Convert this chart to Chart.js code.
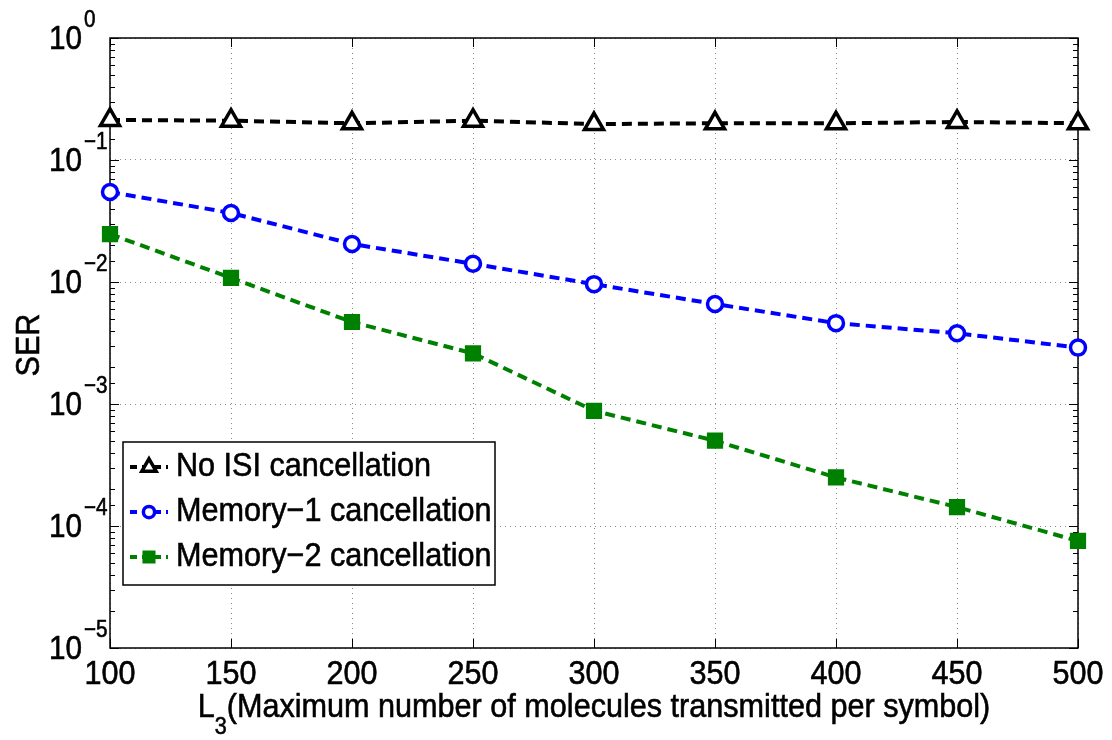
<!DOCTYPE html>
<html>
<head>
<meta charset="utf-8">
<script src="https://cdn.jsdelivr.net/npm/chart.js@4/dist/chart.umd.min.js"></script>
<style>
  body { margin: 0; background: #fff; }
  #wrap { width: 1112px; height: 740px; }
</style>
</head>
<body>
<div id="wrap"><canvas id="serChart" width="1112" height="740"></canvas></div>
<script>
// L3 values on the x axis
const L3 = [100, 150, 200, 250, 300, 350, 400, 450, 500];
// SER
const noIsi = [0.213, 0.21, 0.20, 0.21, 0.197, 0.20, 0.20, 0.205, 0.20];
const memory1 = [0.0547, 0.0368, 0.0205, 0.0141, 0.0096, 0.0066, 0.0046, 0.0038, 0.0029];
const memory2 = [0.0247, 0.0108, 0.0047, 0.0026, 0.00088, 0.00050, 0.00025, 0.000143, 0.0000754];
const seriesNames = ["No ISI cancellation", "Memory\u22121 cancellation", "Memory\u22122 cancellation"];
const xTickLabels = ["100", "150", "200", "250", "300", "350", "400", "450", "500"];
const yTickExps = [0, -1, -2, -3, -4, -5];

const FONT = "'Liberation Sans', Arial, sans-serif";
const SX = 0.9; // the original text is horizontally narrow

function pares(vals) {
  return L3.map((x, i) => ({ x: x, y: vals[i] }));
}

function isMajor(v) {
  const l = Math.log10(v);
  return Math.abs(l - Math.round(l)) < 1e-6;
}

// draws text squeezed horizontally, returns its drawn width
function texto(ctx, str, x, y, size, align) {
  ctx.save();
  ctx.font = size + "px " + FONT;
  const w = ctx.measureText(str).width * SX;
  let x0 = x;
  if (align === "center") x0 = x - w / 2;
  if (align === "right") x0 = x - w;
  ctx.translate(x0, y);
  ctx.scale(SX, 1);
  ctx.textAlign = "left";
  ctx.textBaseline = "middle";
  ctx.fillStyle = "#000";
  ctx.strokeStyle = "#000";
  ctx.lineWidth = 0.6;
  ctx.fillText(str, 0, 0);
  ctx.strokeText(str, 0, 0);
  ctx.restore();
  return w;
}

const moldura = {
  id: "moldura",
  beforeDatasetsDraw(chart) {
    const ctx = chart.ctx;
    const a = chart.chartArea;
    const xs = chart.scales.x, ys = chart.scales.y;
    ctx.save();
    ctx.strokeStyle = "#000";
    ctx.lineWidth = 1.5;
    ctx.strokeRect(a.left, a.top, a.right - a.left, a.bottom - a.top);
    ctx.lineWidth = 1;
    ctx.beginPath();
    ys.ticks.forEach(t => {
      const y = Math.round(ys.getPixelForValue(t.value)) + 0.5;
      const len = isMajor(t.value) ? 9 : 5;
      ctx.moveTo(a.left, y); ctx.lineTo(a.left + len, y);
      ctx.moveTo(a.right, y); ctx.lineTo(a.right - len, y);
    });
    L3.forEach(v => {
      const x = Math.round(xs.getPixelForValue(v)) + 0.5;
      ctx.moveTo(x, a.bottom); ctx.lineTo(x, a.bottom - 9);
      ctx.moveTo(x, a.top); ctx.lineTo(x, a.top + 9);
    });
    ctx.stroke();
    ctx.restore();
  },
  afterDraw(chart) {
    const ctx = chart.ctx;
    const a = chart.chartArea;
    const xs = chart.scales.x, ys = chart.scales.y;

    // x tick labels
    L3.forEach((v, i) => {
      texto(ctx, xTickLabels[i], xs.getPixelForValue(v), a.bottom + 27, 34, "center");
    });
    // y tick labels 10^k
    yTickExps.forEach(e => {
      const y = ys.getPixelForValue(Math.pow(10, e));
      texto(ctx, "10", 82, y + 2, 33, "right");
      const sup = e < 0 ? "\u2212" + Math.abs(e) : String(e);
      texto(ctx, sup, 84, y - 17, 23, "left");
    });

    // axis titles
    ctx.save();
    ctx.translate(30, 345);
    ctx.rotate(-Math.PI / 2);
    texto(ctx, "SER", 0, 0, 34, "center");
    ctx.restore();

    ctx.save();
    ctx.font = "34px " + FONT;
    const resto = "(Maximum number of molecules transmitted per symbol)";
    const wL = ctx.measureText("L").width * SX;
    const wR = ctx.measureText(resto).width * SX;
    ctx.font = "24px " + FONT;
    const w3 = ctx.measureText("3").width * SX;
    ctx.restore();
    const cx = (a.left + a.right) / 2;
    let x = cx - (wL + w3 + wR) / 2;
    x += texto(ctx, "L", x, 708, 34, "left");
    x += texto(ctx, "3", x, 727, 24, "left");
    texto(ctx, resto, x, 708, 34, "left");

    // legend box
    const bx = 123, by = 442, bw = 372, bh = 143;
    ctx.save();
    ctx.fillStyle = "#fff";
    ctx.fillRect(bx, by, bw, bh);
    ctx.strokeStyle = "#000";
    ctx.lineWidth = 1.5;
    ctx.strokeRect(bx, by, bw, bh);
    ctx.restore();
    const rows = [467, 512, 557];
    chart.data.datasets.forEach((ds, i) => {
      const y = rows[i];
      ctx.save();
      ctx.strokeStyle = ds.borderColor;
      ctx.lineWidth = ds.borderWidth;
      ctx.setLineDash([7, 5]);
      ctx.beginPath();
      ctx.moveTo(130, y); ctx.lineTo(168, y);
      ctx.stroke();
      ctx.setLineDash([]);
      ctx.fillStyle = ds.pointBackgroundColor;
      ctx.strokeStyle = ds.borderColor;
      ctx.lineWidth = ds.pointBorderWidth;
      Chart.helpers.drawPoint(ctx, {
        pointStyle: ds.pointStyle, radius: ds.pointRadius * 0.75,
        borderWidth: ds.pointBorderWidth, rotation: 0
      }, 149, y);
      ctx.restore();
      texto(ctx, ds.label, 176, y, 34, "left");
    });
  }
};

function serie(label, vals, cor, estilo, raio, fundo) {
  return {
    label: label,
    data: pares(vals),
    borderColor: cor,
    borderWidth: 4,
    borderDash: [10, 6],
    pointStyle: estilo,
    pointRadius: raio,
    pointBorderWidth: 3.5,
    pointBorderColor: cor,
    pointBackgroundColor: fundo,
    tension: 0,
    clip: false
  };
}

new Chart(document.getElementById("serChart"), {
  type: "line",
  data: {
    datasets: [
      serie(seriesNames[0], noIsi, "#000000", "triangle", 11, "#ffffff"),
      serie(seriesNames[1], memory1, "#0000ff", "circle", 7.5, "#ffffff"),
      serie(seriesNames[2], memory2, "#008000", "rect", 9, "#008000")
    ]
  },
  options: {
    responsive: false,
    animation: false,
    layout: { padding: { left: 110, right: 34, top: 38, bottom: 92 } },
    plugins: { legend: { display: false }, tooltip: { enabled: false } },
    scales: {
      x: {
        type: "linear",
        min: 100,
        max: 500,
        ticks: { display: false, stepSize: 50, autoSkip: false },
        grid: { color: "#8a8a8a", lineWidth: 1, drawTicks: false },
        border: { display: false, dash: [1, 4] }
      },
      y: {
        type: "logarithmic",
        min: 1e-5,
        max: 1,
        ticks: { display: false, autoSkip: false },
        grid: {
          color: c => (c.tick && isMajor(c.tick.value)) ? "#8a8a8a" : "rgba(0,0,0,0)",
          lineWidth: 1,
          drawTicks: false
        },
        border: { display: false, dash: [1, 4] }
      }
    }
  },
  plugins: [moldura]
});
</script>
</body>
</html>
